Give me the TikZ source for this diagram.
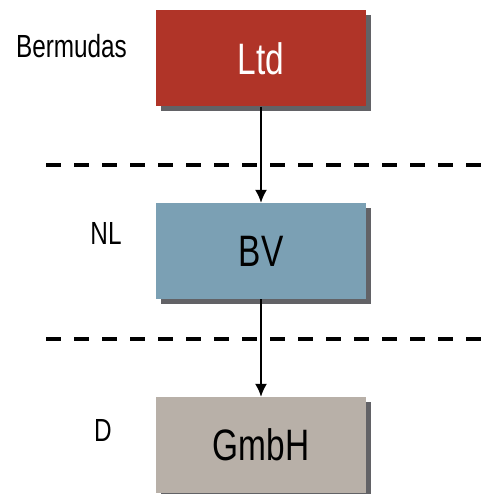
\documentclass[tikz,border=0pt]{standalone}
\usepackage{fontspec}
\setmainfont{Liberation Sans}[FakeStretch=0.76]
\usepackage{tikz}
\usetikzlibrary{shadows,arrows.meta}

\definecolor{ltdred}{RGB}{176,52,40}
\definecolor{bvblue}{RGB}{123,160,180}
\definecolor{gmbhgrey}{RGB}{184,176,168}
\definecolor{shadowgrey}{RGB}{98,98,102}

\begin{document}
\begin{tikzpicture}[x=1pt,y=-1pt,
	entity/.style={minimum width=210pt,minimum height=96pt,inner sep=0pt,
		font=\fontsize{44}{52}\selectfont,
		drop shadow={shadow xshift=5pt,shadow yshift=-5pt,fill=shadowgrey,opacity=1}},
	country/.style={font=\fontsize{32}{38}\selectfont,inner sep=0pt},
	border/.style={line width=3.5pt,dash pattern=on 15pt off 13pt},
	link/.style={-{Latex[length=13pt,width=12pt]},line width=1.6pt}]
	\useasboundingbox (0,0) rectangle (481,494);
	\node [entity,fill=ltdred,text=white] (ltd) at (261,58.5) {Ltd};
	\node [entity,fill=bvblue] (bv) at (261,251) {BV};
	\node [entity,fill=gmbhgrey] (gmbh) at (261,445) {GmbH};
	\node [country] (bm) at (71.5,46) {Bermudas};
	\node [country] (nl) at (106,233) {NL};
	\node [country] (de) at (103,430) {D};
	\coordinate (b1l) at (46,165);
	\coordinate (b1r) at (481,165);
	\coordinate (b2l) at (46,339);
	\coordinate (b2r) at (481,339);
	\draw [border] (b1l) -- (b1r);
	\draw [border] (b2l) -- (b2r);
	\draw [link] (ltd) -- (bv);
	\draw [link] (bv) -- (gmbh);
\end{tikzpicture}
\end{document}
